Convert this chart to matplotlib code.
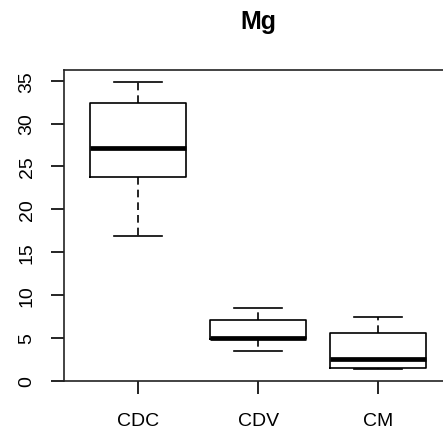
import matplotlib
matplotlib.use("Agg")
from matplotlib import pyplot as plt

groups = ["CDC", "CDV", "CM"]
whislo = [16.9, 3.45, 1.35]
q1 = [23.8, 4.88, 1.52]
med = [27.2, 4.98, 2.5]
q3 = [32.4, 7.08, 5.57]
whishi = [34.9, 8.45, 7.47]

plt.rcParams['font.family'] = ['Liberation Sans', 'DejaVu Sans']

stats = []
for i in range(len(groups)):
    stats.append(dict(label=groups[i], whislo=whislo[i], q1=q1[i], med=med[i],
                      q3=q3[i], whishi=whishi[i], fliers=[]))

fig = plt.figure(figsize=(4.43, 4.35), dpi=100)
ax = fig.add_axes([0.1445, 0.1225, 0.8774, 0.715])

lw = 1.2
ax.bxp(stats, positions=[1, 2, 3], widths=0.8, showfliers=False,
       boxprops=dict(color='black', linewidth=lw),
       medianprops=dict(color='black', linewidth=3.4, solid_capstyle='butt'),
       whiskerprops=dict(color='black', linewidth=lw, linestyle=(0, (4.6, 3.0))),
       capprops=dict(color='black', linewidth=lw), capwidths=0.4)

ax.set_xlim(0.38, 3.62)
ax.set_ylim(0, 36.28)
ax.set_yticks(range(0, 36, 5))
ax.set_yticklabels([str(v) for v in range(0, 36, 5)], rotation=90, va='center')
ax.set_xticks([1, 2, 3])
ax.set_xticklabels(groups)
ax.tick_params(axis='both', length=9.4, width=lw, labelsize=14, colors='black')
ax.tick_params(axis='y', pad=11)
ax.tick_params(axis='x', pad=13)
for s in ax.spines.values():
    s.set_linewidth(lw)
    s.set_color('#222222')

fig.text(0.5835, 1 - 28.5 / 435, "Mg", ha='center', va='baseline',
         fontsize=18, fontweight='bold')

fig.savefig("out.png", dpi=100)
